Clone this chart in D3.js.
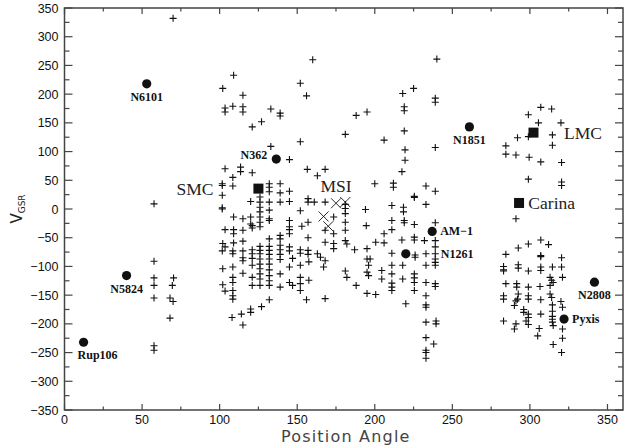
<!DOCTYPE html>
<html><head><meta charset="utf-8">
<script src="https://cdn.jsdelivr.net/npm/d3@7"></script>
<style>body{margin:0;background:#fff}svg{display:block}</style>
</head><body>
<svg id="c" width="634" height="447"></svg>
<script>
// ---- data ----
const xTicks = [0,50,100,150,200,250,300,350];
const yTicks = [-350,-300,-250,-200,-150,-100,-50,0,50,100,150,200,250,300,350];

const starsPA_V = [
[70,332],[160,260],[240,261],[109,233],[152,219],[102,210],[218,201],[225,210],[115,198],[156,197],[239,193],[239,186],[103.5,176],[103.5,169],[108.5,179],[115,178],[115,169],[133,174],[139,167],[139,162],[121,143],[127,152],[188,163],[195,169],[219,178],[219,171],[181,130],[206,120],[219,136],[152,117],[133,109],[145,86],[219.5,103],[219.5,85],[239,107],[168,69],[156.5,69],[163,58],[217.5,65],[103.5,70],[113.5,73],[113.5,65],[108.5,55],[121,63],[101.7,44],[101.7,41],[108.5,40],[132,44],[132,38],[132,30],[139,44],[139,28],[145,31],[101.7,24],[101.7,2],[101.7,0],[120,13],[126,21],[126,12],[126,3],[126,-5],[126,-14],[126,-23],[132,12],[132,-2],[139,12],[145,13],[152,-3],[157,18],[157,12],[161,12],[168,12],[109,-14],[115,-17],[120,-14],[120,-26],[132,-17],[132,-20],[145,-20],[157,-23],[103.5,-36],[109,-36],[109,-43],[115,-37],[121,-29],[121,-33],[126,-31],[132,-52],[139,-46],[139,-52],[145,-31],[145,-36],[145,-43],[153,-30],[157,-50],[102,-60],[103.5,-66],[109,-59],[115,-56],[108.5,-73],[108.5,-78],[101.7,-73],[115,-73],[121,-71],[121,-78],[121,-86],[126,-65],[126,-72],[126,-78],[126,-87],[126,-96],[126,-104],[126,-113],[132,-65],[132,-72],[132,-79],[132,-87],[132,-96],[132,-106],[132,-116],[139,-63],[139,-71],[139,-79],[139,-88],[145,-66],[145,-73],[147,-86],[152,-71],[152,-77],[157,-72],[157,-79],[163,-78],[165,-84],[115,-85],[115,-90],[108.5,-101],[108.5,-119],[108.5,-128],[108.5,-142],[115,-112],[121,-98],[121,-119],[121,-133],[102,-104],[102,-132],[103.5,-143],[108.5,-151],[108.5,-157],[126,-122],[126,-133],[132,-125],[132,-133],[139,-113],[139,-136],[145,-101],[145,-128],[147,-133],[152,-98],[152,-119],[152,-130],[152,-142],[157.5,-92],[157.5,-124],[167,-101],[168,-90],[156,-158],[132,-158],[120,-174],[120,-180],[127,-170],[108,-189],[114,-183],[115,-202],[168,-156],
[181,8],[181,1],[181,-8],[181,-23],[181,-37],[181,-55],[182,-61],[173.5,-14],[173.5,-43],[173.5,-60],[173.5,-69],[168,-37],[168,-58],[181,-108],[182,-119],[187,-71],[188,-133],[194,-1],[194.5,-29],[195,-69],[197,-87],[195,-87],[196,-98],[195,-110],[196,-116],[195,-147],[200.6,-149],[200.6,-58],[200,44],[206,-43],[206,-59],[204.5,-107],[204.5,-122],[211,6],[211,-20],[212,45],[212,38],[211,-36],[211,-98],[211,-113],[211,-129],[211,-136],[211,-142],[211,-77],[218.5,3],[218.5,-5],[219,-20],[219,-24],[217.5,-54],[218,-98],[218,-122],[220,-165],[225.5,22],[225.5,20],[225.5,-27],[225.5,-49],[225.5,-54],[226,-80],[226,-84],[225.5,-113],[225.5,-120],[225.5,-128],[225.5,-142],[233,40],[233,8],[232,-55],[233,-78],[233,-98],[233,-128],[233,-151],[233,-167],[233,-171],[233,-197],[233,-224],[233,-246],[233,-250],[233,-260],[239,31],[239,-24],[239,-55],[239,-66],[239,-78],[239,-87],[239,-93],[239,-98],[239,-130],[239,-135],[239.5,-195],[239.5,-200],[238,-235],
[57.7,9],[57.7,-91],[57.7,-120],[57.7,-133],[57.7,-155],[57.7,-238],[57.7,-246],[70.3,-120],[69.5,-133],[68,-155],[70,-161],[68,-190],
[299,164],[307,177],[314,174],[305.5,150],[320,150],[292,124],[299,126],[314.5,129],[314.5,111],[284.5,110],[284.5,95.5],[291,94],[299.5,90],[307,82],[320.4,81],[299,52],[320.4,47],[320.4,41],[291,-17],
[307,-54],[312,-62],[299,-61],[292.5,-68],[284.5,-79],[307,-81],[307,-83],[320.4,-85],[283,-100],[283,-106],[283,-108],[292.5,-97],[292.5,-103],[299,-108],[307,-101],[307,-107],[314.5,-101],[320.4,-101],[313,-119],[314,-124],[315,-128],[313,-133],[321,-119],[284.5,-130],[291.5,-130],[291.5,-136],[299,-136],[306.5,-135],[292.5,-148],[283,-151],[283,-157],[292,-157],[291,-160],[299,-151],[299,-157],[307,-158],[313,-148],[314,-154],[320,-161],[290,-168],[296,-175],[296,-180],[299,-183],[299,-189],[307,-183],[314.5,-167],[314.5,-178],[314.5,-187],[314.5,-192],[314.5,-197],[321,-171],[283,-195],[291,-200],[290,-209],[297.5,-195],[299,-201],[306,-208],[315,-203],[321,-209],[305,-221],[321,-225],[315,-236],[320.4,-250]
];

const clusterNames = ["N6101","N5824","Rup106","N362","N1851","AM-1","N1261","N2808","Pyxis"];
const clusterPA    = [53, 40, 12.3, 136.5, 261, 237, 220, 341.6, 322];
const clusterV     = [218, -116, -232, 87, 143, -39, -78, -127.5, -191.6];

const galaxyNames = ["SMC","LMC","Carina"];
const galaxyPA    = [125, 302.3, 293];
const galaxyV     = [35.5, 133, 10.5];

const msiPA = [167, 170, 175, 181];
const msiV  = [-13, -30, 10, 12];

// ---- layout ----
const svg = d3.select("#c");
const L = 64.5, R = 623, T = 8, B = 410;
const x = d3.scaleLinear().domain([0,360]).range([L,R]);
const y = d3.scaleLinear().domain([-350,350]).range([B,T]);
const ink = "#111";

// frame
svg.append("rect").attr("x",L).attr("y",T).attr("width",R-L).attr("height",B-T)
  .attr("fill","none").attr("stroke","#444").attr("stroke-width",1.5);

// ticks inside on all sides
const xMinor = d3.range(0,361,25);
const yMinor = d3.range(-350,351,25);
const tg = svg.append("g").attr("stroke","#444").attr("stroke-width",1.2);
xMinor.forEach(v=>{
  const len = v%50===0 ? 6 : 3.5;
  tg.append("line").attr("x1",x(v)).attr("x2",x(v)).attr("y1",B).attr("y2",B-len);
  tg.append("line").attr("x1",x(v)).attr("x2",x(v)).attr("y1",T).attr("y2",T+len);
});
yMinor.forEach(v=>{
  const len = v%50===0 ? 8 : 5;
  tg.append("line").attr("y1",y(v)).attr("y2",y(v)).attr("x1",L).attr("x2",L+len);
  tg.append("line").attr("y1",y(v)).attr("y2",y(v)).attr("x1",R).attr("x2",R-len);
});

// tick labels
const tl = svg.append("g").attr("font-family","Liberation Sans, Arial, sans-serif").attr("font-size",12.5).attr("fill",ink);
xTicks.forEach(v=>{
  tl.append("text").attr("x",x(v)).attr("y",B+14).attr("text-anchor","middle").text(v);
});
yTicks.forEach(v=>{
  tl.append("text").attr("x",L-6).attr("y",y(v)+4.5).attr("text-anchor","end").text(String(v).replace("-","\u2212"));
});

// axis titles
svg.append("text").attr("x",(L+R)/2+2).attr("y",442).attr("text-anchor","middle")
  .attr("font-family","DejaVu Sans, sans-serif").attr("font-size",16).attr("letter-spacing",1.2).attr("fill","#444")
  .text("Position Angle");
const yt = svg.append("text").attr("transform",`translate(22,${y(0)}) rotate(-90)`).attr("text-anchor","middle")
  .attr("font-family","DejaVu Sans, sans-serif").attr("font-size",15).attr("fill","#222");
yt.append("tspan").text("V");
yt.append("tspan").attr("font-size",9).attr("dy",3).text("GSR");

// crosses
const cs = 3.5;
const cg = svg.append("g").attr("stroke",ink).attr("stroke-width",1.1);
starsPA_V.forEach(d=>{
  const px = x(d[0]), py = y(d[1]);
  cg.append("path").attr("d",`M${px-cs},${py}H${px+cs}M${px},${py-cs}V${py+cs}`);
});

// MSI x's
const xs = 5;
const xg = svg.append("g").attr("stroke",ink).attr("stroke-width",0.9);
msiPA.forEach((p,i)=>{
  const px = x(p), py = y(msiV[i]);
  xg.append("path").attr("d",`M${px-xs},${py-xs}L${px+xs},${py+xs}M${px-xs},${py+xs}L${px+xs},${py-xs}`);
});

// galaxies (squares)
galaxyPA.forEach((p,i)=>{
  svg.append("rect").attr("x",x(p)-5).attr("y",y(galaxyV[i])-5).attr("width",10).attr("height",10).attr("fill",ink);
});

// clusters (circles)
clusterPA.forEach((p,i)=>{
  svg.append("circle").attr("cx",x(p)).attr("cy",y(clusterV[i])).attr("r",4.6).attr("fill",ink);
});

// cluster labels
const lblPos = {
  "N6101":{dx:0,dy:17,a:"middle"},
  "N5824":{dx:0,dy:17,a:"middle"},
  "Rup106":{dx:-6,dy:17,a:"start"},
  "N362":{dx:-9,dy:0,a:"end"},
  "N1851":{dx:0,dy:17,a:"middle"},
  "AM-1":{dx:8,dy:4,a:"start"},
  "N1261":{dx:35,dy:4,a:"start"},
  "N2808":{dx:0,dy:17,a:"middle"},
  "Pyxis":{dx:8,dy:4,a:"start"}
};
const lg = svg.append("g").attr("font-family","Liberation Serif, DejaVu Serif, serif").attr("font-weight","bold").attr("font-size",12).attr("fill",ink);
clusterNames.forEach((n,i)=>{
  const o = lblPos[n];
  lg.append("text").attr("x",x(clusterPA[i])+o.dx).attr("y",y(clusterV[i])+o.dy).attr("text-anchor",o.a).text(n.replace("-","\u2212"));
});

// big labels
const bg = svg.append("g").attr("font-family","Liberation Serif, DejaVu Serif, serif").attr("font-size",17.5).attr("fill","#222");
bg.append("text").attr("x",x(96)).attr("y",y(galaxyV[0])+6).attr("text-anchor","end").text("SMC");
bg.append("text").attr("x",x(322)).attr("y",y(galaxyV[1])+6).attr("text-anchor","start").text("LMC");
bg.append("text").attr("x",x(299)).attr("y",y(galaxyV[2])+6).attr("text-anchor","start").text("Carina");
bg.append("text").attr("x",x(175)).attr("y",y(40)+6).attr("text-anchor","middle").text("MSI");
</script>
</body></html>
